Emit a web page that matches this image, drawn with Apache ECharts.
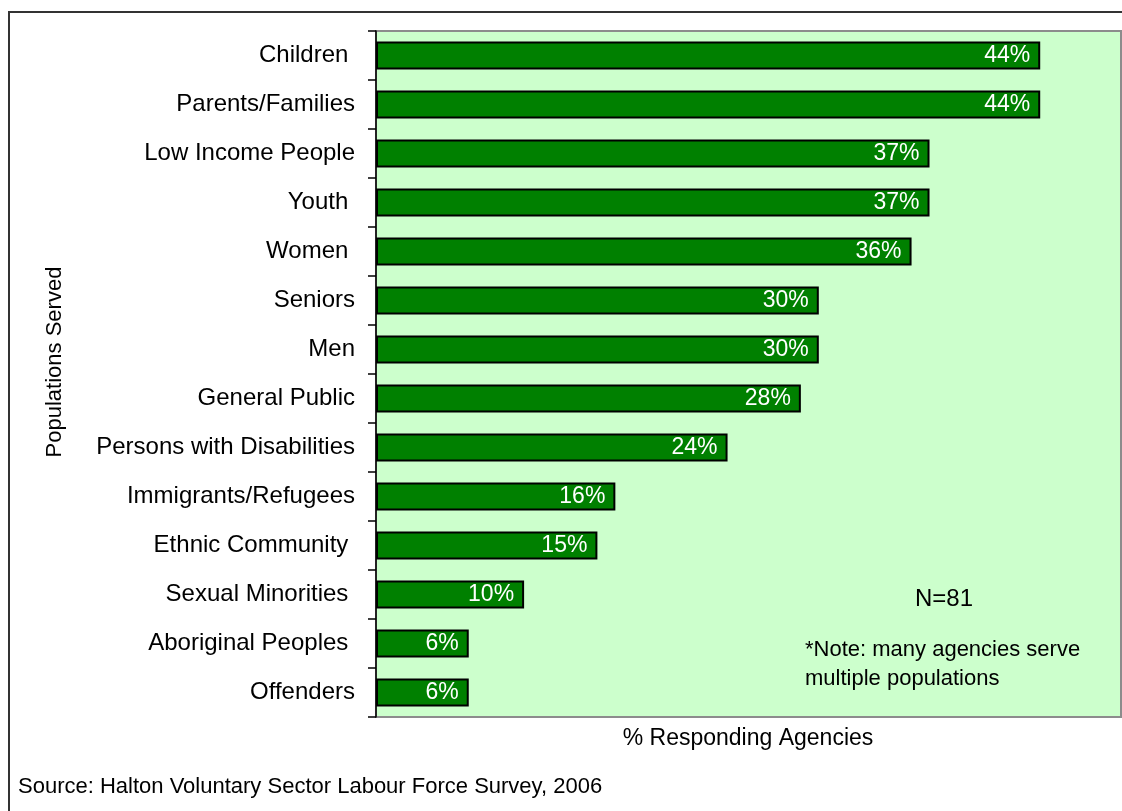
<!DOCTYPE html>
<html>
<head>
<meta charset="utf-8">
<script src="https://cdn.jsdelivr.net/npm/echarts@6/dist/echarts.min.js"></script>
<style>
  html, body { margin: 0; padding: 0; background: #ffffff; }
  #chart { width: 1122px; height: 811px; }
</style>
</head>
<body>
<div id="chart"></div>
<script>
// Populations served by responding agencies (share of agencies, %)
const categories = [
  'Children ', 'Parents/Families', 'Low Income People', 'Youth ', 'Women ',
  'Seniors', 'Men', 'General Public', 'Persons with Disabilities',
  'Immigrants/Refugees', 'Ethnic Community ', 'Sexual Minorities ',
  'Aboriginal Peoples ', 'Offenders'
];
const shares = [44.4, 44.4, 37.0, 37.0, 35.8, 29.6, 29.6, 28.4, 23.5, 16.0, 14.8, 9.9, 6.2, 6.2];

const yAxisTitle = 'Populations Served';
const xAxisTitle = '% Responding Agencies';
const sampleNote = 'N=81';
const noteLines = ['*Note: many agencies serve', 'multiple populations'];
const sourceText = 'Source: Halton Voluntary Sector Labour Force Survey, 2006';

const FONT = '"Liberation Sans", Arial, sans-serif';

const chart = echarts.init(document.getElementById('chart'), null, { renderer: 'canvas' });

chart.setOption({
  backgroundColor: '#ffffff',
  animation: false,
  grid: {
    left: 376, right: 1, top: 31, bottom: 94,
    show: true,
    backgroundColor: '#CCFFCC',
    borderColor: '#8c8c8c',
    borderWidth: 2
  },
  xAxis: {
    type: 'value',
    min: 0,
    max: 49.8,
    show: false
  },
  yAxis: {
    type: 'category',
    data: categories,
    inverse: true,
    axisLine: { show: true, lineStyle: { color: '#000000', width: 1.5 } },
    axisTick: { show: true, length: 8, lineStyle: { color: '#000000', width: 1.5 } },
    axisLabel: {
      margin: 21,
      color: '#000000',
      fontFamily: FONT,
      fontSize: 24
    },
    splitLine: { show: false }
  },
  series: [{
    type: 'bar',
    data: shares,
    barWidth: 28,
    itemStyle: {
      color: '#008000',
      borderColor: '#000000',
      borderWidth: 2
    },
    label: {
      show: true,
      position: 'insideRight',
      distance: 10,
      color: '#ffffff',
      fontFamily: FONT,
      fontSize: 23,
      formatter: p => Math.round(p.value) + '%'
    }
  }],
  graphic: [
    // outer chart frame
    {
      type: 'rect',
      silent: true,
      z: 100,
      shape: { x: 9, y: 12, width: 1300, height: 1000 },
      style: { fill: null, stroke: '#333333', lineWidth: 2 }
    },
    {
      type: 'text',
      silent: true,
      z: 100,
      x: 55, y: 362,
      rotation: Math.PI / 2,
      style: {
        text: yAxisTitle,
        fill: '#000000',
        font: '22px ' + FONT,
        textAlign: 'center',
        textVerticalAlign: 'middle'
      }
    },
    {
      type: 'text',
      silent: true,
      z: 100,
      x: 748, y: 739,
      style: {
        text: xAxisTitle,
        fill: '#000000',
        font: '23px ' + FONT,
        textAlign: 'center',
        textVerticalAlign: 'middle'
      }
    },
    {
      type: 'text',
      silent: true,
      z: 100,
      x: 944, y: 599,
      style: {
        text: sampleNote,
        fill: '#000000',
        font: '24px ' + FONT,
        textAlign: 'center',
        textVerticalAlign: 'middle'
      }
    },
    {
      type: 'text',
      silent: true,
      z: 100,
      x: 805, y: 650,
      style: {
        text: noteLines[0],
        fill: '#000000',
        font: '22px ' + FONT,
        textAlign: 'left',
        textVerticalAlign: 'middle'
      }
    },
    {
      type: 'text',
      silent: true,
      z: 100,
      x: 805, y: 679,
      style: {
        text: noteLines[1],
        fill: '#000000',
        font: '22px ' + FONT,
        textAlign: 'left',
        textVerticalAlign: 'middle'
      }
    },
    {
      type: 'text',
      silent: true,
      z: 100,
      x: 18, y: 787,
      style: {
        text: sourceText,
        fill: '#000000',
        font: '22px ' + FONT,
        textAlign: 'left',
        textVerticalAlign: 'middle'
      }
    }
  ]
});
</script>
</body>
</html>
